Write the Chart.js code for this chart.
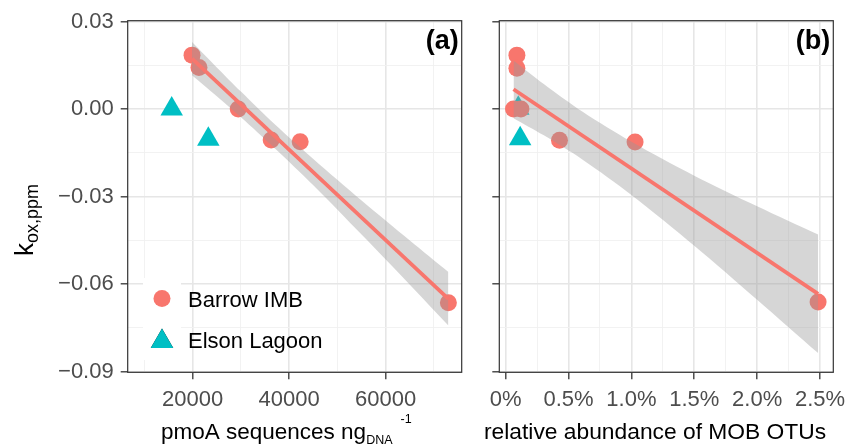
<!DOCTYPE html>
<html>
<head>
<meta charset="utf-8">
<script src="https://cdn.jsdelivr.net/npm/chart.js@4.4.1/dist/chart.umd.min.js"></script>
<style>
  body { margin: 0; background: #fff; }
  #wrap { position: relative; width: 857px; height: 447px; }
  canvas { position: absolute; top: 0; }
</style>
</head>
<body>
<div id="wrap">
  <canvas id="panelA" width="475" height="447" style="left:0"></canvas>
  <canvas id="panelB" width="382" height="447" style="left:475px"></canvas>
</div>
<script>
const seriesNames = ['Barrow IMB', 'Elson Lagoon'];

// panel (a): pmoA sequences per ng DNA vs k_ox,ppm
const barrowPmoA = [19860, 21300, 29440, 36270, 42280, 72990];
const barrowKoxA = [0.0185, 0.0143, 0.0000, -0.0106, -0.0112, -0.0664];
const elsonPmoA = [15650, 23240];
const elsonKoxA = [0.0000, -0.0103];
// smoother (lm)
const fitXA = [19860, 72990];
const fitYA = [0.0173, -0.0650];
const bandXA = [19860, 25000, 30000, 37000, 45000, 55000, 65000, 72990];
const bandLoA = [0.0116, 0.0044, -0.0028, -0.0134, -0.0261, -0.0430, -0.0602, -0.0742];
const bandHiA = [0.0230, 0.0143, 0.0060, -0.0052, -0.0171, -0.0313, -0.0450, -0.0558];

// panel (b): relative abundance of MOB OTUs (%) vs k_ox,ppm
const barrowRelB = [0.089, 0.089, 0.062, 0.121, 0.428, 1.029, 2.485];
const barrowKoxB = [0.0185, 0.0140, 0.0000, 0.0000, -0.0107, -0.0113, -0.0661];
const elsonRelB = [0.100, 0.115];
const elsonKoxB = [0.0003, -0.0102];
const fitXB = [0.062, 2.485];
const fitYB = [0.0068, -0.0633];
const bandXB = [0.062, 0.3, 0.615, 1.0, 1.5, 2.0, 2.485];
const bandLoB = [-0.0031, -0.0089, -0.0174, -0.0294, -0.0468, -0.0653, -0.0836];
const bandHiB = [0.0167, 0.0087, -0.0010, -0.0112, -0.0228, -0.0333, -0.0430];

// ticks (major + minor grid)
const yTicks = [-0.09, -0.075, -0.06, -0.045, -0.03, -0.015, 0, 0.015, 0.03];
const xTicksA = [10000, 20000, 30000, 40000, 50000, 60000, 70000];
const xTicksB = [0, 0.25, 0.5, 0.75, 1.0, 1.25, 1.5, 1.75, 2.0, 2.25, 2.5];

const RED = '#F8766D';
const TEAL = '#00BFC4';
const FONT = "'Liberation Sans', Arial, sans-serif";
Chart.defaults.font.family = FONT;

function pts(xs, ys) { return xs.map((x, i) => ({ x: x, y: ys[i] })); }
function isMajor(v, step) { return Math.abs(v / step - Math.round(v / step)) < 1e-6; }
function fmtK(v) { return Math.abs(v) < 1e-9 ? '0.00' : v.toFixed(2).replace('-', '\u2212'); }

function makeDatasets(fx, fy, bx, blo, bhi, bxPts, byPts, exPts, eyPts) {
  return [
    { type: 'line', data: pts(fx, fy), borderColor: RED, borderWidth: 3.8,
      pointRadius: 0, fill: false, order: 0 },
    { type: 'line', data: pts(bx, bhi), borderWidth: 0, pointRadius: 0,
      backgroundColor: 'rgba(153,153,153,0.4)', fill: '+1', tension: 0.3, order: 1 },
    { type: 'line', data: pts(bx, blo), borderWidth: 0, pointRadius: 0,
      fill: false, tension: 0.3, order: 1 },
    { label: seriesNames[0], data: pts(bxPts, byPts), pointStyle: 'circle', pointRadius: 8.5,
      backgroundColor: RED, borderWidth: 0, order: 2 },
    { label: seriesNames[1], data: pts(exPts, eyPts), pointStyle: 'triangle', pointRadius: 13,
      backgroundColor: TEAL, borderWidth: 0, order: 2 }
  ];
}

function gridOpts(step) {
  return {
    color: c => isMajor(c.tick.value, step) ? '#e6e6e6' : '#f1f1f1',
    lineWidth: c => isMajor(c.tick.value, step) ? 1.6 : 0.9,
    tickColor: c => isMajor(c.tick.value, step) ? '#333333' : 'rgba(0,0,0,0)',
    tickLength: 7,
    tickWidth: 1.3
  };
}

function drawParts(ctx, parts, x, y) {
  for (const p of parts) {
    x += p.gap || 0;
    ctx.font = (p.bold ? 'bold ' : '') + p.size + 'px ' + FONT;
    ctx.fillText(p.text, x, y + (p.dy || 0));
    x += ctx.measureText(p.text).width;
  }
}

function decor(o) {
  return {
    id: 'decor',
    afterDraw(chart) {
      const ctx = chart.ctx;
      const a = chart.chartArea;
      ctx.save();
      // panel border
      ctx.strokeStyle = '#333333';
      ctx.lineWidth = 1.2;
      ctx.strokeRect(a.left, a.top, a.right - a.left, a.bottom - a.top);
      // panel tag
      ctx.fillStyle = '#000';
      ctx.font = 'bold 27px ' + FONT;
      ctx.textAlign = 'right';
      ctx.textBaseline = 'middle';
      ctx.fillText(o.tag, a.right - 3, 42);
      // x title
      ctx.textAlign = 'left';
      ctx.textBaseline = 'alphabetic';
      drawParts(ctx, o.xTitle, o.xTitleX, 439);
      // y title
      if (o.yTitle) {
        ctx.save();
        ctx.translate(33, 256);
        ctx.rotate(-Math.PI / 2);
        drawParts(ctx, [
          { text: 'k', size: 26 },
          { text: 'ox,ppm', size: 18, dy: 5 }
        ], 0, 0);
        ctx.restore();
      }
      // legend inside panel
      if (o.legend) {
        const sets = chart.data.datasets.slice(3);
        const kx = 143, ky = 278, kw = 38, kh = 41;
        ctx.fillStyle = '#ffffff';
        ctx.fillRect(kx, ky, kw, kh * 2);
        sets.forEach((ds, i) => {
          const cy = ky + kh * i + kh / 2;
          Chart.helpers.drawPoint(ctx, {
            pointStyle: ds.pointStyle, radius: ds.pointStyle === 'triangle' ? 13 : 8.5,
            rotation: 0, borderWidth: 0
          }, kx + kw / 2, cy + (ds.pointStyle === 'triangle' ? 2 : 0));
          ctx.fillStyle = ds.backgroundColor;
          ctx.fill();
          ctx.fillStyle = '#000';
          ctx.font = '22px ' + FONT;
          ctx.textBaseline = 'middle';
          ctx.fillText(ds.label, 188, cy + 2);
        });
      }
      ctx.restore();
    }
  };
}

function makeChart(id, cfg) {
  return new Chart(document.getElementById(id), {
    type: 'scatter',
    data: { datasets: cfg.datasets },
    options: {
      responsive: false,
      animation: false,
      events: [],
      layout: { padding: { left: 0, top: 20.7, right: cfg.padRight, bottom: 0 } },
      plugins: { legend: { display: false }, tooltip: { enabled: false } },
      scales: {
        x: {
          type: 'linear', min: cfg.xMin, max: cfg.xMax,
          afterBuildTicks: s => { s.ticks = cfg.xTicks.map(v => ({ value: v })); },
          afterFit: s => { s.height = 74.7; },
          ticks: {
            callback: cfg.xLabel, color: '#4d4d4d', padding: 7,
            font: { size: 22 }, maxRotation: 0, autoSkip: false
          },
          grid: gridOpts(cfg.xStep),
          border: { display: false }
        },
        y: {
          type: 'linear', min: -0.0902, max: 0.0303,
          afterBuildTicks: s => { s.ticks = yTicks.map(v => ({ value: v })); },
          afterFit: s => { s.width = cfg.yWidth; },
          ticks: {
            callback: cfg.yLabel, color: '#4d4d4d', padding: 7,
            font: { size: 22 }, autoSkip: false
          },
          grid: gridOpts(0.03),
          border: { display: false }
        }
      }
    },
    plugins: [decor(cfg.decor)]
  });
}

makeChart('panelA', {
  datasets: makeDatasets(fitXA, fitYA, bandXA, bandLoA, bandHiA,
    barrowPmoA, barrowKoxA, elsonPmoA, elsonKoxA),
  xMin: 6530, xMax: 75750, xTicks: xTicksA, xStep: 20000,
  xLabel: v => isMajor(v, 20000) ? String(v) : '',
  yLabel: v => isMajor(v, 0.03) ? fmtK(v) : '',
  yWidth: 127.7, padRight: 13.3,
  decor: {
    tag: '(a)', yTitle: true, legend: true, xTitleX: 161,
    xTitle: [
      { text: 'pmoA sequences ng', size: 22.5 },
      { text: 'DNA', size: 12.5, dy: 5 },
      { text: '-1', size: 12.5, dy: -16, gap: 8 }
    ]
  }
});

makeChart('panelB', {
  datasets: makeDatasets(fitXB, fitYB, bandXB, bandLoB, bandHiB,
    barrowRelB, barrowKoxB, elsonRelB, elsonKoxB),
  xMin: -0.051, xMax: 2.606, xTicks: xTicksB, xStep: 0.5,
  xLabel: v => isMajor(v, 0.5) ? (Math.abs(v) < 1e-9 ? '0%' : v.toFixed(1) + '%') : '',
  yLabel: () => '',
  yWidth: 24.3, padRight: 23.7,
  decor: {
    tag: '(b)', yTitle: false, legend: false, xTitleX: 9,
    xTitle: [{ text: 'relative abundance of MOB OTUs', size: 22.8 }]
  }
});
</script>
</body>
</html>
